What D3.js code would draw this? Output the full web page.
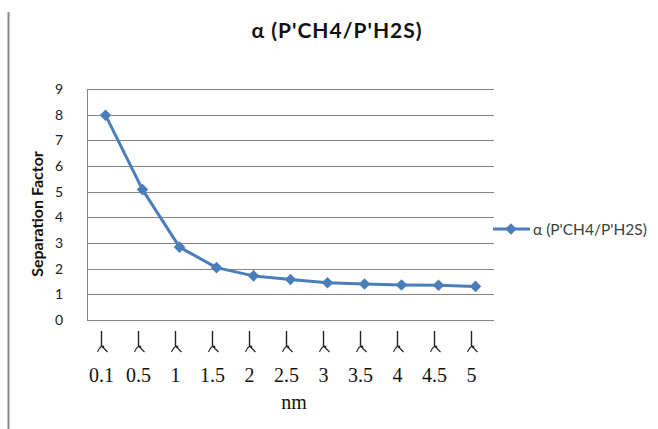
<!DOCTYPE html>
<html><head><meta charset="utf-8">
<script src="https://d3js.org/d3.v7.min.js"></script>
<style>body{margin:0;background:#fff}svg{display:block}</style>
</head><body>
<svg id="c" width="658" height="429"></svg>
<script>
const categories = ["0.1","0.5","1","1.5","2","2.5","3","3.5","4","4.5","5"];
const values = [7.98, 5.08, 2.84, 2.04, 1.72, 1.58, 1.45, 1.40, 1.36, 1.35, 1.31];
const yTicks = [0,1,2,3,4,5,6,7,8,9];
const seriesName = "\u03b1 (P'CH4/P'H2S)";
const titleText = "\u03b1 (P'CH4/P'H2S)";
const yTitle = "Separation Factor";
const xTitle = "nm";

const svg = d3.select("#c");
const L = 87, R = 494, T = 89, B = 320;
const x = d3.scaleBand().domain(categories).range([L, R]);
const y = d3.scaleLinear().domain([0, 9]).range([B, T]);

// left border line
svg.append("line").attr("x1",8.5).attr("x2",8.5).attr("y1",12).attr("y2",429)
  .attr("stroke","#8a8a8a").attr("stroke-width",2);

// gridlines
svg.append("g").selectAll("line").data(yTicks).join("line")
  .attr("x1",L).attr("x2",R).attr("y1",d=>Math.round(y(d))+0.5).attr("y2",d=>Math.round(y(d))+0.5)
  .attr("stroke","#868686").attr("stroke-width",1);
svg.append("line").attr("x1",L+0.5).attr("x2",L+0.5).attr("y1",T).attr("y2",B+1)
  .attr("stroke","#868686");

// y axis labels
const yAxis = d3.axisLeft(y).tickValues(yTicks).tickSize(0).tickPadding(0);
const gy = svg.append("g").attr("transform",`translate(${L-24},0)`).call(yAxis);
gy.select(".domain").remove();
gy.selectAll("text").attr("font-family","Lato, 'Open Sans', sans-serif").attr("font-size",14).attr("fill","#222");

// x tick glyphs
const off = -4;
const gx = svg.append("g");
categories.forEach(c => {
  const g = gx.append("g").attr("transform",`translate(${x(c) + x.bandwidth()/2 + off},0)`);
  g.append("line").attr("x1",0).attr("x2",0).attr("y1",331).attr("y2",346).attr("stroke","#222").attr("stroke-width",1.4);
  g.append("path").attr("d","M-4,352 Q-2,347 1,346 Q3,346 2,348 M0,346 L6,352").attr("fill","none").attr("stroke","#222").attr("stroke-width",1.1);
});
// x labels
const xAxis = d3.axisBottom(x).tickSize(0).tickPadding(0);
const gxa = svg.append("g").attr("transform",`translate(${off},0)`).call(xAxis);
gxa.select(".domain").remove();
gxa.selectAll("text").attr("y",382).attr("dy",null)
  .attr("font-family","'Liberation Serif', 'Times New Roman', serif").attr("font-size",20).attr("fill","#111");

// line
const line = d3.line().x(d=>x(d.c)+x.bandwidth()/2).y(d=>y(d.v));
const data = categories.map((c,i)=>({c, v: values[i]}));
svg.append("path").datum(data).attr("d",line).attr("fill","none")
  .attr("stroke","#4a7ebb").attr("stroke-width",3).attr("stroke-linejoin","round");
const diamond = d3.symbol().type(d3.symbolDiamond2).size(85);
svg.append("g").selectAll("path").data(data).join("path")
  .attr("d",diamond).attr("transform",d=>`translate(${x(d.c)+x.bandwidth()/2},${y(d.v)})`)
  .attr("fill","#4a7ebb");

// title
svg.append("text").attr("x",337).attr("y",38).attr("text-anchor","middle")
  .attr("font-family","Lato, 'Open Sans', sans-serif").attr("font-weight","bold").attr("font-size",21)
  .attr("letter-spacing",1).attr("fill","#111").text(titleText);

// y title
svg.append("text").attr("transform","translate(43,214) rotate(-90)").attr("text-anchor","middle")
  .attr("font-family","Lato, 'Open Sans', sans-serif").attr("font-weight","bold").attr("font-size",16)
  .attr("fill","#111").text(yTitle);

// x title
svg.append("text").attr("x",294).attr("y",409).attr("text-anchor","middle")
  .attr("font-family","'Liberation Serif', 'Times New Roman', serif").attr("font-size",20)
  .attr("fill","#111").text(xTitle);

// legend
svg.append("line").attr("x1",493).attr("x2",530).attr("y1",229).attr("y2",229)
  .attr("stroke","#4a7ebb").attr("stroke-width",3);
svg.append("path").attr("d",diamond).attr("transform","translate(511,229)").attr("fill","#4a7ebb");
svg.append("text").attr("x",533).attr("y",235)
  .attr("font-family","Lato, 'Open Sans', sans-serif").attr("font-size",15.5).attr("fill","#404040").text(seriesName);
</script>
</body></html>
